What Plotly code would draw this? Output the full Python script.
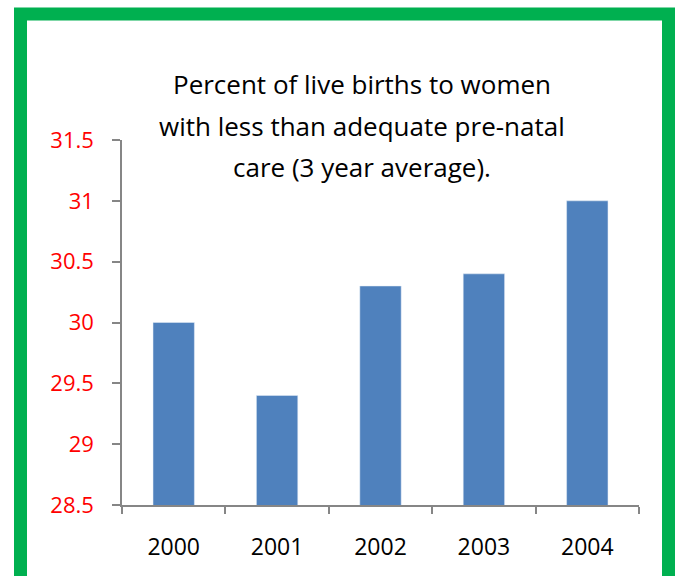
import plotly.graph_objects as go

years = ["2000", "2001", "2002", "2003", "2004"]
values = [30.0, 29.4, 30.3, 30.4, 31.0]
title_lines = ["Percent of live births to women",
               "with less than adequate pre-natal",
               "care (3 year average)."]

W, H = 677, 576
L, R, T, B = 122, 639, 140, 505

def px(x):
    return (x - L) / (R - L)

def py(y):
    return (B - y) / (B - T)

FONT = "Open Sans"

fig = go.Figure(go.Bar(x=years, y=values, marker_color="#4F81BD", width=0.4))

fig.update_layout(
    width=W, height=H,
    margin=dict(l=L, r=W - R, t=T, b=H - B),
    paper_bgcolor="white", plot_bgcolor="white",
    showlegend=False,
    font=dict(family=FONT, size=22, color="black"),
)
fig.update_xaxes(
    type="category", tickson="boundaries", ticks="outside", ticklen=7,
    tickcolor="#868686", tickwidth=1.5, showline=True, linecolor="#868686",
    linewidth=1.5, showgrid=False, tickfont=dict(size=23, color="black"),
    ticklabelstandoff=21,
)
fig.update_yaxes(
    range=[28.5, 31.5], dtick=0.5, tick0=28.5, ticks="outside", ticklen=8,
    tickcolor="#868686", tickwidth=1.5, showline=True, linecolor="#868686",
    linewidth=1.5, showgrid=False, zeroline=False,
    tickfont=dict(size=22, color="#FF0000"), ticklabelstandoff=14,
)

for i, line in enumerate(title_lines):
    fig.add_annotation(
        text=line, xref="paper", yref="paper", x=px(362), y=py(84 + 41.5 * i),
        showarrow=False, xanchor="center", yanchor="middle",
        font=dict(family=FONT, size=26, color="black"),
    )

fig.add_shape(
    type="rect", xref="paper", yref="paper",
    x0=px(20.5), x1=px(668.5), y0=py(585.5), y1=py(14),
    line=dict(color="#00B050", width=13), fillcolor="rgba(0,0,0,0)",
    layer="above",
)

fig.write_html("out.html", config={"displayModeBar": False},
               post_script="document.body.style.margin='0px';document.body.style.overflow='hidden';")
